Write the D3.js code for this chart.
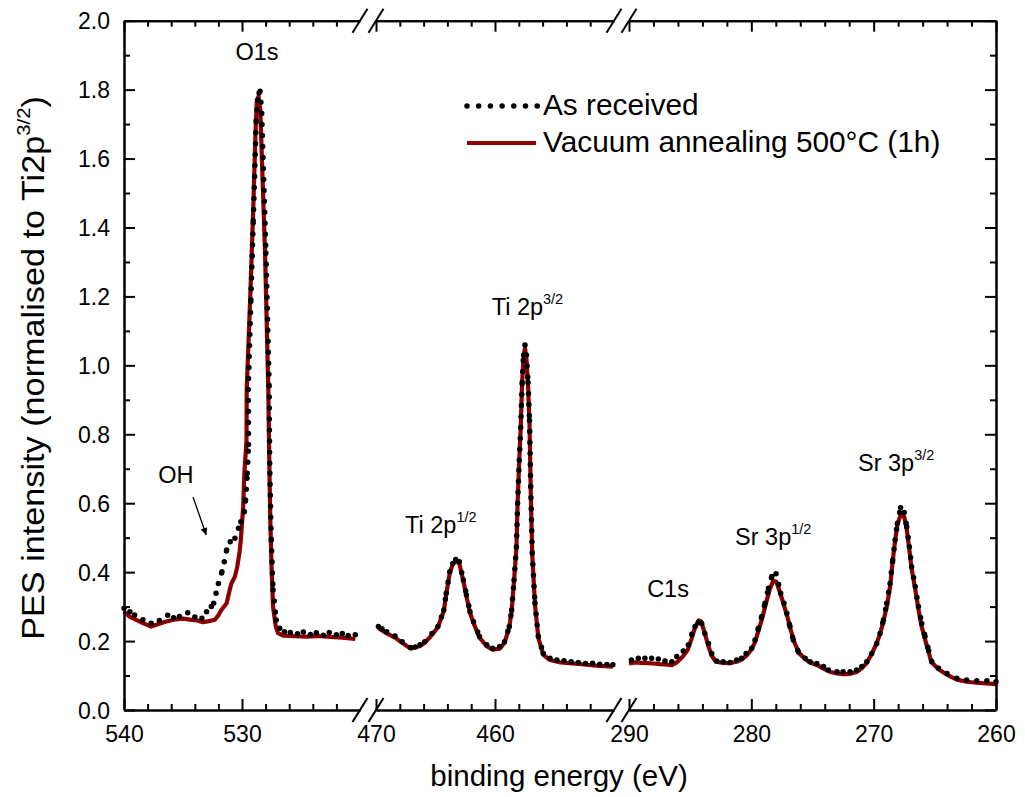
<!DOCTYPE html>
<html><head><meta charset="utf-8">
<script src="https://cdn.jsdelivr.net/npm/d3@7"></script>
<style>body{margin:0;background:#fff}svg text{font-family:"Liberation Sans",Arial,sans-serif;fill:#000}</style>
</head><body>
<svg id="c" width="1025" height="797"></svg>
<script>
// ---- data ----
const segDomains = [[540,520],[470,450],[290,260]];
const segMajorTicks = [[540,530],[470,460],[290,280,270,260]];
const segMinorTicks = [[538,536,534,532,528,526,524,522],[468,466,464,462,458,456,454,452],[288,286,284,282,278,276,274,272,268,266,264,262]];
const yMajorTicks = [0,0.2,0.4,0.6,0.8,1.0,1.2,1.4,1.6,1.8,2.0];
const yMinorTicks = [0.1,0.3,0.5,0.7,0.9,1.1,1.3,1.5,1.7,1.9];

// As received (dotted), per segment [binding energy, intensity]
const asRecO1s = [[540,0.295],[539.5,0.285],[539.1,0.276],[538.4,0.262],[537.7,0.252],[537.0,0.26],[536.3,0.275],[535.8,0.268],[535.3,0.271],[534.6,0.282],[534.0,0.27],[533.4,0.266],[533.0,0.285],[532.6,0.3],[532.4,0.31],[532.2,0.339],[532.0,0.367],[531.7,0.401],[531.5,0.43],[531.3,0.464],[531.0,0.488],[530.6,0.498],[530.3,0.527],[530.1,0.546],[529.8,0.575],[529.7,0.609],[529.55,0.687],[529.45,0.77],[529.47,0.93],[529.25,1.19],[529.04,1.42],[528.8,1.71],[528.68,1.77],[528.55,1.79],[528.47,1.795],[528.33,1.731],[527.97,1.325],[527.7,0.94],[527.67,0.78],[527.64,0.687],[527.52,0.493],[527.37,0.348],[527.1,0.261],[526.8,0.237],[526.4,0.227],[525.9,0.225],[525.3,0.221],[524.8,0.226],[524.2,0.219],[523.7,0.224],[523.1,0.217],[522.6,0.225],[522.0,0.218],[521.5,0.222],[521.0,0.216],[520.4,0.218]];
const asRecTi = [[469.8,0.242],[469.5,0.236],[469.1,0.227],[468.4,0.215],[467.8,0.198],[467.1,0.181],[466.7,0.183],[466.3,0.189],[465.9,0.198],[465.3,0.222],[464.8,0.242],[464.5,0.27],[464.3,0.29],[464.1,0.339],[463.8,0.401],[463.55,0.425],[463.3,0.437],[463.0,0.43],[462.66,0.377],[462.4,0.334],[462.1,0.285],[461.8,0.256],[461.3,0.213],[460.7,0.189],[460.2,0.179],[459.6,0.184],[459.2,0.198],[458.8,0.242],[458.6,0.29],[458.4,0.377],[458.2,0.474],[458.1,0.6],[457.96,0.725],[457.84,0.82],[457.72,0.95],[457.6,1.03],[457.48,1.059],[457.36,1.03],[457.22,0.95],[457.1,0.84],[457.0,0.648],[456.87,0.455],[456.64,0.31],[456.36,0.213],[455.94,0.164],[455.38,0.15],[454.8,0.145],[454.2,0.143],[453.6,0.14],[453.0,0.138],[452.4,0.135],[451.8,0.136],[451.2,0.133],[450.6,0.132],[450.1,0.131]];
const asRecSr = [[289.8,0.145],[289.24,0.15],[288.7,0.15],[288.15,0.15],[287.6,0.148],[287.06,0.142],[286.5,0.14],[286.1,0.155],[285.56,0.171],[285.15,0.189],[284.87,0.22],[284.6,0.242],[284.33,0.254],[284.06,0.251],[283.8,0.222],[283.5,0.193],[283.24,0.164],[282.83,0.142],[282.3,0.14],[281.74,0.138],[281.2,0.145],[280.8,0.15],[280.43,0.164],[279.97,0.179],[279.7,0.203],[279.43,0.237],[279.15,0.271],[278.88,0.31],[278.6,0.353],[278.33,0.387],[277.98,0.395],[277.6,0.339],[277.33,0.31],[277.1,0.28],[276.84,0.242],[276.57,0.203],[276.16,0.169],[275.6,0.15],[275.2,0.14],[274.65,0.135],[274.1,0.126],[273.7,0.116],[273.0,0.111],[272.5,0.111],[271.93,0.111],[271.4,0.116],[270.97,0.126],[270.56,0.14],[270.16,0.164],[269.75,0.193],[269.48,0.222],[269.2,0.261],[268.93,0.31],[268.66,0.367],[268.44,0.435],[268.25,0.493],[268.06,0.542],[267.8,0.587],[267.5,0.573],[267.3,0.532],[267.08,0.474],[266.9,0.416],[266.6,0.358],[266.34,0.3],[266.07,0.251],[265.8,0.213],[265.5,0.172],[265.25,0.14],[264.7,0.121],[264.0,0.106],[263.2,0.092],[262.4,0.087],[261.57,0.085],[260.75,0.085],[260.0,0.082]];

// Vacuum annealing 500°C (1h) (solid)
const annO1s = [[540,0.285],[539.5,0.27],[539,0.262],[538.4,0.252],[537.7,0.242],[537.2,0.248],[536.5,0.256],[535.8,0.262],[535.0,0.265],[534.4,0.262],[533.8,0.26],[533.3,0.255],[532.8,0.258],[532.3,0.262],[532.0,0.275],[531.75,0.29],[531.3,0.31],[531.1,0.34],[530.9,0.367],[530.6,0.387],[530.4,0.416],[530.2,0.46],[530.1,0.493],[529.9,0.59],[529.8,0.687],[529.62,0.78],[529.6,0.93],[529.3,1.2],[529.05,1.45],[528.85,1.68],[528.75,1.765],[528.6,1.78],[528.45,1.74],[528.05,1.33],[527.77,0.93],[527.7,0.75],[527.6,0.55],[527.5,0.42],[527.37,0.3],[527.15,0.245],[526.95,0.223],[526.5,0.216],[525.5,0.214],[524.5,0.213],[523.5,0.215],[522.5,0.212],[521.5,0.21],[520.4,0.206]];
const annTi = [[469.8,0.238],[469.1,0.222],[468.4,0.21],[467.8,0.195],[467.1,0.178],[466.3,0.186],[465.9,0.195],[465.3,0.218],[464.8,0.24],[464.3,0.288],[464.1,0.335],[463.8,0.398],[463.55,0.423],[463.3,0.432],[463.0,0.425],[462.66,0.375],[462.4,0.33],[462.1,0.282],[461.8,0.252],[461.3,0.21],[460.7,0.185],[460.2,0.175],[459.6,0.178],[459.2,0.195],[458.8,0.24],[458.6,0.288],[458.4,0.375],[458.2,0.47],[458.1,0.6],[457.96,0.725],[457.84,0.82],[457.72,0.95],[457.6,1.025],[457.48,1.05],[457.36,1.02],[457.22,0.94],[457.1,0.83],[457.0,0.64],[456.87,0.45],[456.64,0.305],[456.36,0.21],[455.94,0.16],[455.38,0.145],[454.5,0.138],[453.5,0.135],[452.5,0.132],[451.5,0.129],[450.1,0.126]];
const annSr = [[290,0.135],[289.5,0.138],[289,0.137],[288.5,0.136],[288,0.135],[287.5,0.133],[287,0.132],[286.5,0.13],[286.1,0.138],[285.6,0.155],[285.2,0.175],[284.9,0.205],[284.6,0.24],[284.3,0.26],[284.1,0.257],[283.85,0.228],[283.55,0.19],[283.25,0.158],[282.9,0.14],[282.4,0.137],[281.8,0.136],[281.2,0.14],[280.8,0.146],[280.4,0.158],[280.0,0.175],[279.7,0.197],[279.4,0.232],[279.1,0.268],[278.8,0.31],[278.5,0.35],[278.2,0.375],[277.95,0.372],[277.6,0.335],[277.3,0.3],[277.05,0.27],[276.8,0.235],[276.5,0.198],[276.1,0.165],[275.6,0.148],[275.2,0.138],[274.6,0.13],[274.1,0.12],[273.6,0.111],[273,0.106],[272.5,0.104],[271.9,0.105],[271.4,0.11],[271,0.12],[270.6,0.135],[270.2,0.16],[269.8,0.19],[269.5,0.218],[269.2,0.258],[268.9,0.305],[268.65,0.36],[268.45,0.43],[268.25,0.49],[268.05,0.54],[267.75,0.57],[267.5,0.56],[267.3,0.525],[267.1,0.47],[266.9,0.41],[266.6,0.35],[266.35,0.295],[266.1,0.245],[265.8,0.205],[265.5,0.168],[265.3,0.14],[264.7,0.118],[264,0.102],[263.2,0.088],[262.4,0.082],[261.6,0.079],[260.8,0.077],[260,0.075]];

const asReceived = [asRecO1s, asRecTi, asRecSr];
const annealed = [annO1s, annTi, annSr];

// peak labels [segment, energy, intensity, main text, superscript]
const peakLabels = [[0,528.73,1.886,"O1s",""],[0,535.6,0.659,"OH",""],[1,467.56,0.514,"Ti 2p","1/2"],[1,460.28,1.146,"Ti 2p","3/2"],[2,286.81,0.328,"C1s",""],[2,281.33,0.479,"Sr 3p","1/2"],[2,271.28,0.693,"Sr 3p","3/2"]];
const ohArrow = [[534.15,0.618],[533.03,0.508]];
const seriesNames = ["As received","Vacuum annealing 500°C (1h)"];

// ---- layout ----
const L=124,R=996,T=20.7,B=710;
const segWidths=[236,238,367];
const gaps=[16,15,0];
const svg=d3.select("#c");
let xs=[];let cur=L;
segDomains.forEach((d,i)=>{xs.push(d3.scaleLinear().domain(d).range([cur,cur+segWidths[i]]));cur+=segWidths[i]+gaps[i];});
const y=d3.scaleLinear().domain([0,2]).range([B,T]);
const red="#8b0000";

svg.append("defs").append("marker").attr("id","ah").attr("viewBox","0 0 10 10").attr("refX",10).attr("refY",5)
 .attr("markerWidth",12).attr("markerHeight",7).attr("markerUnits","userSpaceOnUse").attr("orient","auto")
 .append("path").attr("d","M0,0L10,5L0,10z").attr("fill","#000");

// annealed lines
const line=(sx)=>d3.line().x(d=>sx(d[0])).y(d=>y(d[1]));
annealed.forEach((data,i)=>{
  svg.append("path").attr("d",line(xs[i])(data)).attr("fill","none").attr("stroke",red).attr("stroke-width",4.2).attr("stroke-linejoin","round");
});
// as received dotted: each data interval is its own subpath (dash pattern restarts)
asReceived.forEach((data,i)=>{
  let d="";
  for(let k=0;k<data.length-1;k++){
    d+=`M${xs[i](data[k][0])},${y(data[k][1])}L${xs[i](data[k+1][0])},${y(data[k+1][1])}`;
  }
  const last=data[data.length-1];
  d+=`M${xs[i](last[0])},${y(last[1])}l0.01,0`;
  svg.append("path").attr("d",d).attr("fill","none").attr("stroke","#000").attr("stroke-width",5.5)
   .attr("stroke-linecap","round").attr("stroke-dasharray","0 11");
});

// axes
const ax=svg.append("g");
const styleAxis=g=>{g.selectAll("path,line").attr("stroke","#000").attr("stroke-width",2);g.selectAll("text").attr("font-size",23).attr("font-family","Liberation Sans, Arial, sans-serif").attr("fill","#000").attr("dy",null);};
xs.forEach((sx,i)=>{
  ax.append("g").attr("transform",`translate(0,${B})`).call(d3.axisBottom(sx).tickValues(segMajorTicks[i]).tickSizeInner(-11).tickSizeOuter(0).tickFormat(d3.format("d"))).call(styleAxis).selectAll(".tick text").attr("y",32);
  ax.append("g").attr("transform",`translate(0,${B})`).call(d3.axisBottom(sx).tickValues(segMinorTicks[i]).tickSizeInner(-6).tickSizeOuter(0).tickFormat("")).call(styleAxis);
  ax.append("g").attr("transform",`translate(0,${T})`).call(d3.axisTop(sx).tickValues(segMajorTicks[i]).tickSizeInner(-11).tickSizeOuter(0).tickFormat("")).call(styleAxis);
  ax.append("g").attr("transform",`translate(0,${T})`).call(d3.axisTop(sx).tickValues(segMinorTicks[i]).tickSizeInner(-6).tickSizeOuter(0).tickFormat("")).call(styleAxis);
});
ax.append("g").attr("transform",`translate(${L},0)`).call(d3.axisLeft(y).tickValues(yMajorTicks).tickSizeInner(-11).tickSizeOuter(0).tickPadding(14).tickFormat(d3.format(".1f"))).call(styleAxis).selectAll(".tick text").attr("dy","0.36em");
ax.append("g").attr("transform",`translate(${L},0)`).call(d3.axisLeft(y).tickValues(yMinorTicks).tickSizeInner(-6).tickSizeOuter(0).tickFormat("")).call(styleAxis);
ax.append("g").attr("transform",`translate(${R},0)`).call(d3.axisRight(y).tickValues(yMajorTicks).tickSizeInner(-11).tickSizeOuter(0).tickFormat("")).call(styleAxis);
ax.append("g").attr("transform",`translate(${R},0)`).call(d3.axisRight(y).tickValues(yMinorTicks).tickSizeInner(-6).tickSizeOuter(0).tickFormat("")).call(styleAxis);

// break marks
const breaks=[];
for(let i=0;i<xs.length-1;i++){breaks.push(xs[i].range()[1]);breaks.push(xs[i+1].range()[0]);}
[B,T].forEach(yy=>breaks.forEach(cx=>{
  svg.append("line").attr("x1",cx-7.5).attr("y1",yy+12).attr("x2",cx+7.5).attr("y2",yy-12).attr("stroke","#000").attr("stroke-width",2);
}));

// axis titles
svg.append("text").attr("x",559).attr("y",786).attr("text-anchor","middle").attr("font-size",29.5).text("binding energy (eV)");
const yt=svg.append("text").attr("transform",`translate(44,368) rotate(-90) scale(1.07,1)`).attr("text-anchor","middle").attr("font-size",32);
yt.append("tspan").text("PES intensity (normalised to Ti2p");
yt.append("tspan").attr("font-size",19).attr("dy",-14).text("3/2");
yt.append("tspan").attr("dy",14).text(")");

// peak labels
peakLabels.forEach(p=>{
  const t=svg.append("text").attr("x",xs[p[0]](p[1])).attr("y",y(p[2])).attr("font-size",23.5).attr("text-anchor",p[4]?"start":"middle");
  t.append("tspan").text(p[3]);
  if(p[4]) t.append("tspan").attr("font-size",14.5).attr("dy",-11).text(p[4]);
});
// OH arrow
svg.append("line").attr("x1",xs[0](ohArrow[0][0])).attr("y1",y(ohArrow[0][1])).attr("x2",xs[0](ohArrow[1][0])).attr("y2",y(ohArrow[1][1]))
 .attr("stroke","#000").attr("stroke-width",1.3).attr("marker-end","url(#ah)");

// legend
const lg=svg.append("g");
lg.append("line").attr("x1",467).attr("x2",540).attr("y1",106).attr("y2",106).attr("stroke","#000").attr("stroke-width",5.5).attr("stroke-linecap","round").attr("stroke-dasharray","0 11.7");
lg.append("line").attr("x1",467).attr("x2",536).attr("y1",143).attr("y2",143).attr("stroke",red).attr("stroke-width",4.2);
lg.append("text").attr("x",543).attr("y",115).attr("font-size",29.8).text(seriesNames[0]);
lg.append("text").attr("x",543).attr("y",152).attr("font-size",29.8).text(seriesNames[1]);
</script>
</body></html>
